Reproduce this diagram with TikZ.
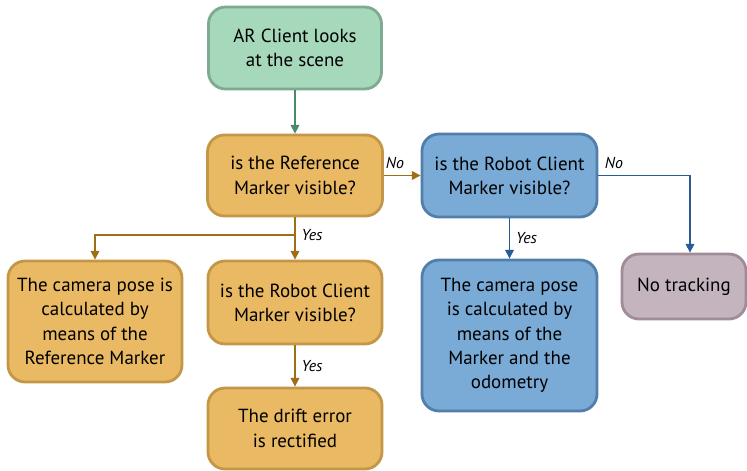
\documentclass[tikz,border=0pt]{standalone}
\usepackage{fontspec}
\setmainfont{PT Sans}
\usepackage{xcolor}
\definecolor{startfill}{RGB}{166, 216, 188}
\definecolor{startline}{RGB}{125, 170, 145}
\definecolor{startarrow}{RGB}{70, 140, 105}
\definecolor{refill}{RGB}{233, 185, 99}
\definecolor{refline}{RGB}{196, 150, 72}
\definecolor{refarrow}{RGB}{160, 110, 20}
\definecolor{robfill}{RGB}{122, 170, 214}
\definecolor{robline}{RGB}{82, 126, 170}
\definecolor{robarrow}{RGB}{40, 92, 150}
\definecolor{nofill}{RGB}{196, 180, 190}
\definecolor{noline}{RGB}{160, 140, 152}
\usetikzlibrary{calc,positioning,arrows.meta}

\begin{document}
\begin{tikzpicture}[
    box/.style={draw, rectangle, rounded corners=0.34cm, line width=1.6pt, align=center,
        font=\fontsize{10.8}{13.8}\selectfont, inner sep=2pt},
    link/.style={-{Triangle[length=5pt,width=5pt]}, line width=0.8pt},
    ans/.style={font=\fontsize{9}{10}\selectfont\itshape}
]
    \useasboundingbox (0,0) rectangle (14.94,-9.42);

    % Start
    \node[box, fill=startfill, draw=startline, minimum width=3.46cm, minimum height=1.64cm] (start) at (5.9, -0.96) {AR Client looks\\at the scene};

    % First question
    \node[box, fill=refill, draw=refline, minimum width=3.5cm, minimum height=1.62cm] (refq) at (5.9, -3.51) {is the Reference\\Marker visible?};
    \node[box, fill=robfill, draw=robline, minimum width=3.5cm, minimum height=1.66cm] (robq) at (10.19, -3.51) {is the Robot Client\\Marker visible?};

    % Results
    \node[box, fill=refill, draw=refline, minimum width=3.48cm, minimum height=2.42cm] (refpose) at (1.9, -6.43) {The camera pose is\\calculated by\\means of the\\Reference Marker};
    \node[box, fill=refill, draw=refline, minimum width=3.48cm, minimum height=1.66cm] (robq2) at (5.9, -6.05) {is the Robot Client\\Marker visible?};
    \node[box, fill=refill, draw=refline, minimum width=3.48cm, minimum height=1.62cm] (drift) at (5.9, -8.57) {The drift error\\is rectified};
    \node[box, fill=robfill, draw=robline, minimum width=3.5cm, minimum height=3.02cm] (odopose) at (10.19, -6.71) {The camera pose\\is calculated by\\means of the\\Marker and the\\odometry};
    \node[box, fill=nofill, draw=noline, minimum width=2.48cm, minimum height=1.3cm] (notrack) at (13.68, -5.73) {No tracking};

    % Arrows
    \coordinate (split) at (5.9, -4.70);
    \draw[link, startarrow] (start) -- (refq);
    \draw[link, refarrow] (refq) -- node[ans, above, pos=0.3, text=black] {No} (robq);
    \draw[refarrow, line width=0.8pt] (refq) -- (split) node[ans, right, text=black] {Yes};
    \draw[link, refarrow] (split) -| (refpose);
    \draw[link, refarrow] (split) -- (robq2);
    \draw[link, refarrow] (robq2) -- node[ans, right, text=black] {Yes} (drift);
    \draw[link, robarrow] (robq) -- node[ans, right, text=black] {Yes} (odopose);
    \draw[link, robarrow] (robq.east) node[ans, above right, text=black] {No} -| ([xshift=0.12cm]notrack.north);
\end{tikzpicture}
\end{document}
